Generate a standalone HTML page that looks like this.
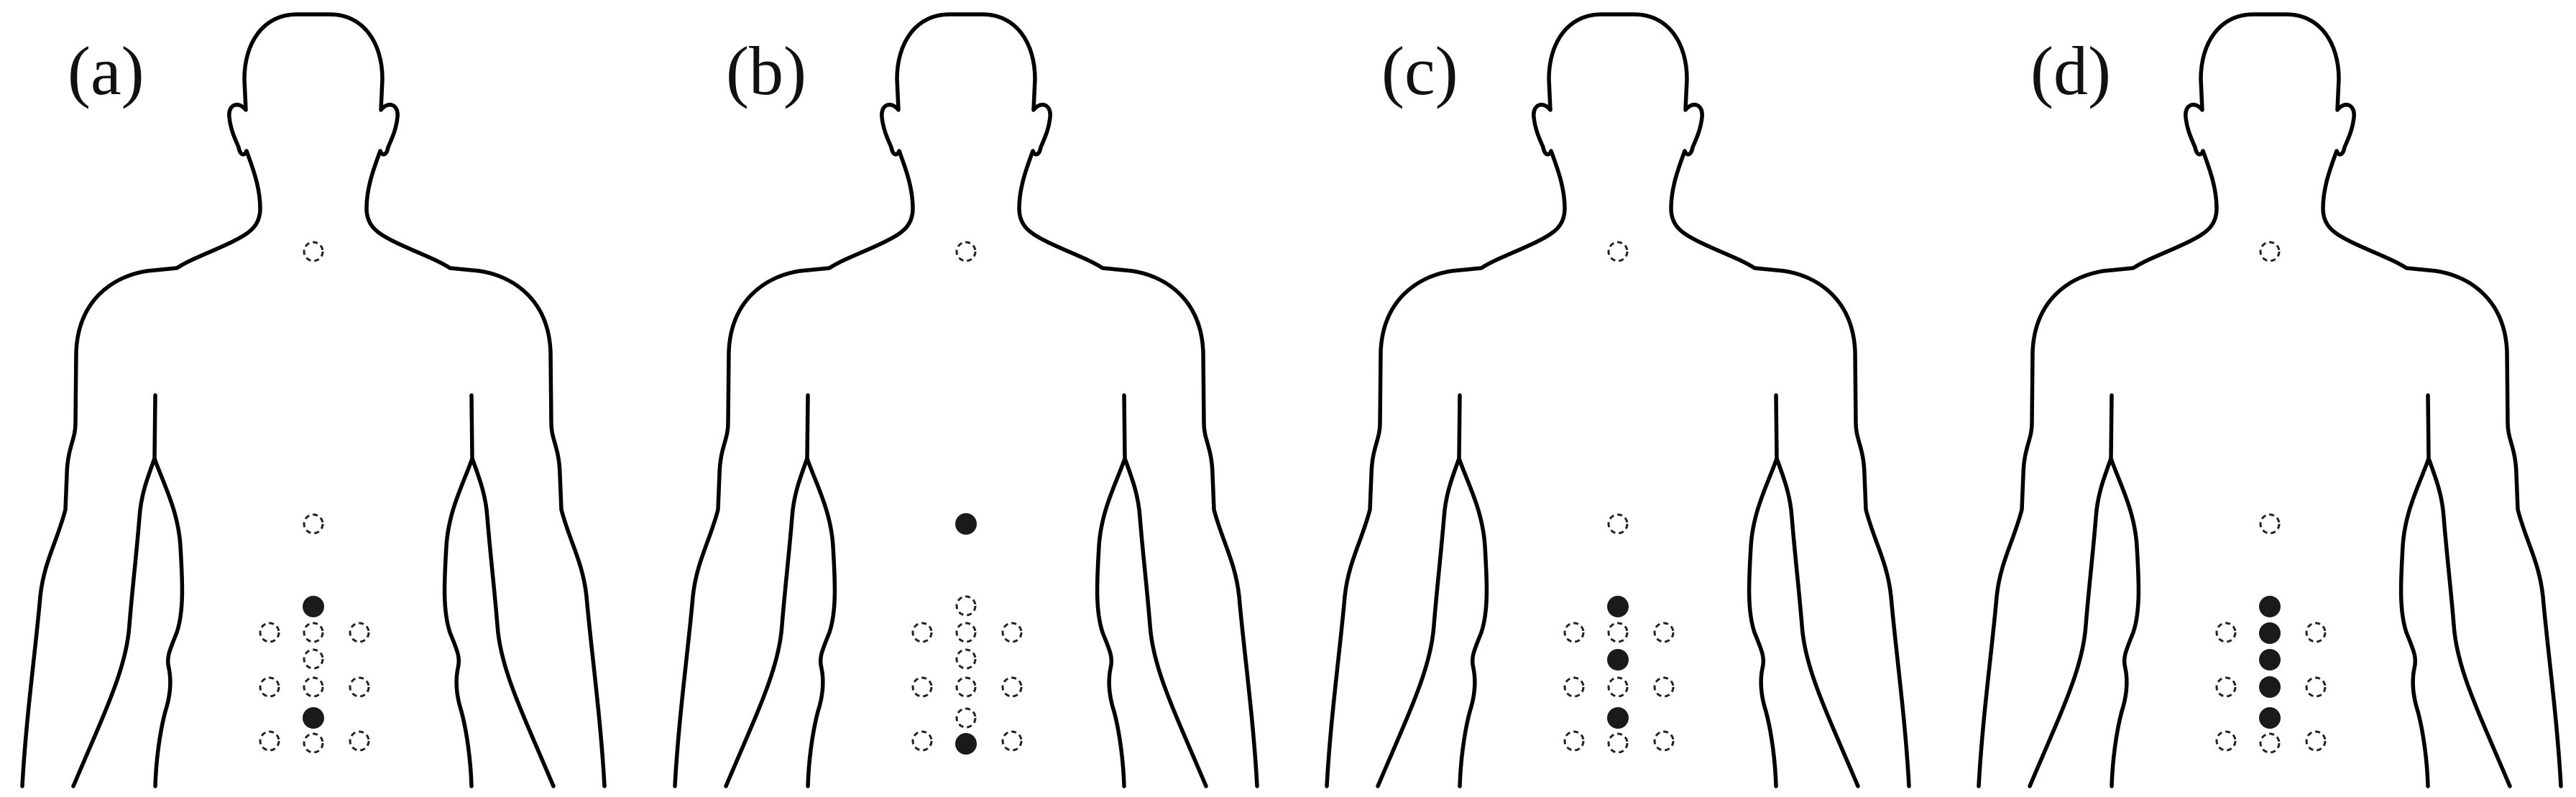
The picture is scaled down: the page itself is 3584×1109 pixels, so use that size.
<!DOCTYPE html>
<html><head><meta charset="utf-8"><style>
html,body{margin:0;padding:0;background:#fff;}
svg{display:block;}
text{font-family:"Liberation Serif",serif;font-size:96px;fill:#111;}
</style></head><body>
<svg width="3584" height="1109" viewBox="0 0 3584 1109" xmlns="http://www.w3.org/2000/svg">
<defs>
<g id="half" fill="none" stroke="#000" stroke-width="5.5" stroke-linejoin="round" stroke-linecap="round">
<path d="M0,20 L-23,20 C-70,20 -96,60 -96,110 L-94,153 C-104,140 -119,145 -117,163 C-115,182 -108,195 -104,205 C-102,216 -96,218 -93,210 C-85,232 -74,260 -74,290 C-74,315 -90,325 -112,336 C-140,350 -170,360 -190,373 L-231,377 C-282,385 -327,420 -330,489 L-331,589 C-331,612 -342,622 -343,660 L-345,709 C-356,752 -375,782 -380,830 C-386,900 -400,1000 -405,1094"/>
<path d="M-220,550 L-221,638 C-232,668 -240,690 -242,720 C-246,770 -252,820 -256,870 C-260,930 -290,990 -334,1094"/>
<path d="M-221,638 C-210,670 -188,710 -185,760 C-182,810 -180,850 -190,880 C-200,905 -205,915 -201,930 C-198,945 -198,965 -206,990 C-214,1020 -219,1060 -220,1094"/>
</g>
<g id="body"><use href="#half"/><use href="#half" transform="scale(-1,1)"/></g>
<circle id="o" r="13" fill="none" stroke="#222" stroke-width="3" stroke-dasharray="7 5"/>
<circle id="f" r="15" fill="#1a1a1a"/>
<g id="grid">
<use href="#o" x="0" y="350"/>
<use href="#o" x="0" y="729"/>
<use href="#o" x="-61" y="880"/><use href="#o" x="64" y="880"/>
<use href="#o" x="-61" y="956"/><use href="#o" x="64" y="956"/>
<use href="#o" x="-61" y="1031"/><use href="#o" x="64" y="1031"/>
</g>
</defs>

<g transform="translate(436,0)">
<use href="#body"/><use href="#grid"/>
<use href="#f" x="0" y="844"/><use href="#o" x="0" y="880"/><use href="#o" x="0" y="917"/><use href="#o" x="0" y="956"/><use href="#f" x="0" y="999"/><use href="#o" x="0" y="1034"/>
</g>
<g transform="translate(1344,0)">
<use href="#body"/>
<use href="#o" x="0" y="350"/><use href="#f" x="0" y="729"/>
<use href="#o" x="-61" y="880"/><use href="#o" x="64" y="880"/>
<use href="#o" x="-61" y="956"/><use href="#o" x="64" y="956"/>
<use href="#o" x="-61" y="1031"/><use href="#o" x="64" y="1031"/>
<use href="#o" x="0" y="843"/><use href="#o" x="0" y="880"/><use href="#o" x="0" y="917"/><use href="#o" x="0" y="956"/><use href="#o" x="0" y="999"/><use href="#f" x="0" y="1035"/>
</g>
<g transform="translate(2251,0)">
<use href="#body"/><use href="#grid"/>
<use href="#f" x="0" y="844"/><use href="#o" x="0" y="880"/><use href="#f" x="0" y="918"/><use href="#o" x="0" y="956"/><use href="#f" x="0" y="999"/><use href="#o" x="0" y="1034"/>
</g>
<g transform="translate(3158,0)">
<use href="#body"/><use href="#grid"/>
<use href="#f" x="0" y="844"/><use href="#f" x="0" y="881"/><use href="#f" x="0" y="918"/><use href="#f" x="0" y="956"/><use href="#f" x="0" y="999"/><use href="#o" x="0" y="1034"/>
</g>

<text x="94" y="131">(a)</text>
<text x="1010" y="131">(b)</text>
<text x="1922" y="131">(c)</text>
<text x="2825" y="131">(d)</text>
</svg>
</body></html>
